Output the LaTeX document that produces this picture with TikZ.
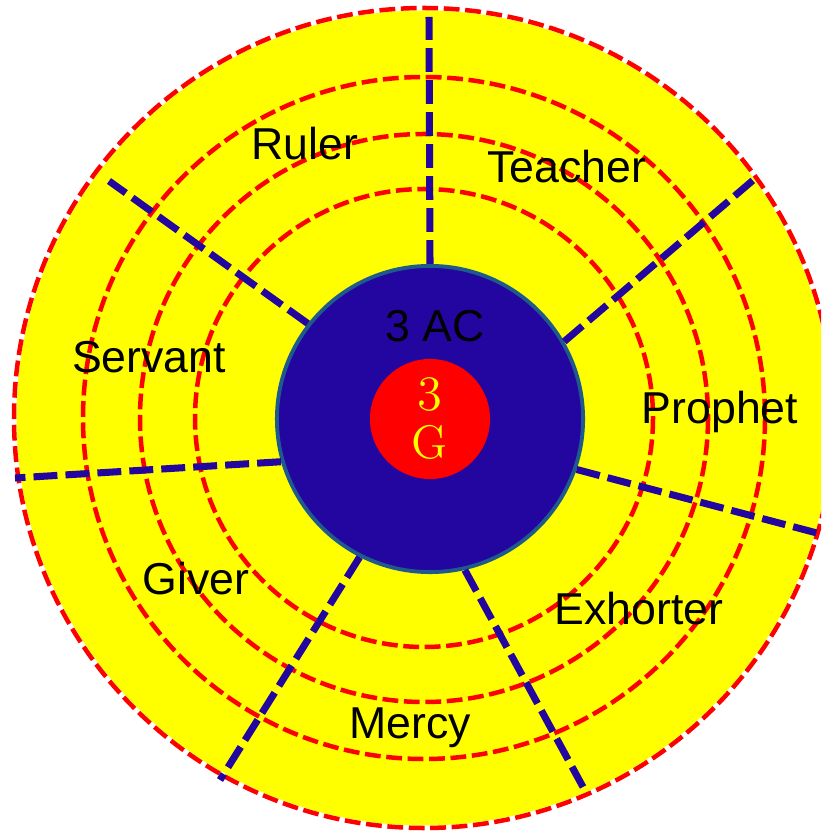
\documentclass[tikz,border=0pt]{standalone}
\usepackage{fontspec}
\setsansfont{Liberation Sans}
\usepackage{tikz}
\usetikzlibrary{calc}
\definecolor{ringred}{HTML}{FF0000}
\definecolor{spokeblue}{HTML}{2306A0}
\definecolor{coreedge}{HTML}{1F5A8C}
\definecolor{fieldyellow}{HTML}{FFFF00}
\tikzset{
  ring/.style       = {draw=ringred, line width=1.28pt, dash pattern=on 4.5pt off 1.6pt},
  spoke/.style      = {draw=spokeblue, line width=2pt, dash pattern=on 6.8pt off 2.3pt},
  corecircle/.style = {circle, fill=spokeblue, draw=coreedge, line width=1.1pt,
                       minimum size=3.06cm, inner sep=0pt},
  godcircle/.style  = {circle, fill=ringred, minimum size=1.2cm, inner sep=0pt,
                       text=fieldyellow, align=center,
                       font=\rmfamily\fontsize{13.4}{16.5}\selectfont},
  lbl/.style        = {anchor=base, font=\sffamily\fontsize{12.7}{15}\selectfont},
}
\newcommand{\oldthree}{{\usefont{OML}{cmm}{m}{it}3}}

\begin{document}
\begin{tikzpicture}[x=0.01cm, y=-0.01cm]
  \clip (0,0) rectangle (821,831);
  \coordinate (ctr) at (424,418);
  % field and rings
  \fill[fieldyellow] (ctr) circle (407.5);
  \foreach \r in {229,284,341,410}
    \draw[ring] (ctr) circle (\r);
  % core
  \node[corecircle] (core) at (430,419) {};
  % outer ends of the spokes
  \coordinate (o1) at (429,17);
  \coordinate (o2) at (758,176);
  \coordinate (o3) at (832,537);
  \coordinate (o4) at (583,787);
  \coordinate (o5) at (220,780);
  \coordinate (o6) at (15,478);
  \coordinate (o7) at (109,181);
  \foreach \a/\o in {90/o1, 30/o2, -19/o3, -77/o4, 243/o5, 196/o6, 142/o7}
    \draw[spoke] (core.\a) -- (\o);
  \node[godcircle] (god) at (430,419) {\oldthree\\G};
  \node[lbl] (ac) at (435,342) {3 AC};
  % gifts
  \node[lbl] (ruler)    at (305,160) {Ruler};
  \node[lbl] (teacher)  at (567,183) {Teacher};
  \node[lbl] (servant)  at (149,373) {Servant};
  \node[lbl] (prophet)  at (720,423) {Prophet};
  \node[lbl] (giver)    at (196,594) {Giver};
  \node[lbl] (exhorter) at (639,624) {Exhorter};
  \node[lbl] (mercy)    at (410,738) {Mercy};
\end{tikzpicture}
\end{document}
